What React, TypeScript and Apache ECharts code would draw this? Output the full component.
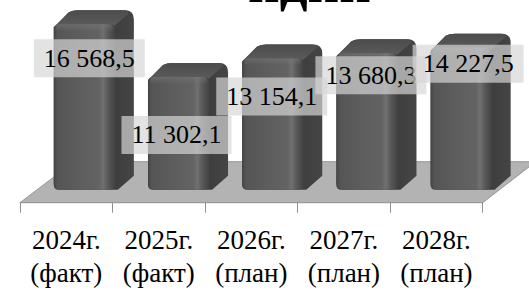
import React, { useEffect, useRef } from 'react';
import * as echarts from 'echarts';

const years = ['2024г.', '2025г.', '2026г.', '2027г.', '2028г.'];
const kinds = ['(факт)', '(факт)', '(план)', '(план)', '(план)'];
const values = [16568.5, 11302.1, 13154.1, 13680.3, 14227.5];
const titleText = 'ндии';

// label nudges relative to each bar's front top (layout only)
const labelDx = [5, -2, -1, 4, 7];
const labelDy = [34, 58, 38, 22, 16];

const categories = years.map((y, i) => `${y}\n${kinds[i]}`);

const SERIF = 'Liberation Serif';

function fmt(v: number): string {
  const [int, dec] = v.toFixed(1).split('.');
  return int.replace(/\B(?=(\d{3})+(?!\d))/g, ' ') + ',' + dec;
}

// perspective geometry (px)
const DX = 19;
const DY = -14;
const FLOOR_DXL = 54;
const FLOOR_DXR = 53;
const FLOOR_DY = -41;

function barGeom(params: any, api: any, idx: number, val: number) {
  const [cx, cy] = api.coord([idx, val]);
  const [, y0] = api.coord([idx, 0]);
  const band = api.size([1, 0])[0];
  const cs = params.coordSys;
  const w = band * 0.66;
  const x0 = cx - band * 0.135 + 0.018 * (cx - cs.x - band / 2);
  const lift = band * 0.14;
  return { x0, x1: x0 + w, w, yb: y0 - lift, yt: cy - lift };
}

export default function App() {
  const ref = useRef<HTMLDivElement>(null);

  useEffect(() => {
    if (!ref.current) return;
    const chart = echarts.init(ref.current, undefined, { renderer: 'svg' });
    const data = values.map((v, i) => [i, v]);

    const option: any = {
      animation: false,
      backgroundColor: '#ffffff',
      textStyle: { fontFamily: SERIF },
      grid: { left: 20, right: 46.3, top: 3, bottom: 91.3 },
      xAxis: {
        type: 'category',
        data: categories,
        axisLine: { show: true, lineStyle: { color: '#8f8f8f', width: 1 } },
        axisTick: { show: true, length: 10, lineStyle: { color: '#8f8f8f', width: 1 } },
        axisLabel: {
          interval: 0,
          margin: 21,
          color: '#000',
          fontFamily: SERIF,
          fontSize: 27,
          lineHeight: 33,
        },
        splitLine: { show: false },
      },
      yAxis: {
        type: 'value',
        min: 0,
        max: 20000,
        show: false,
        splitLine: { show: false },
      },
      graphic: [
        {
          type: 'text',
          x: 248,
          y: -17,
          style: {
            text: titleText,
            fill: '#000',
            fontFamily: SERIF,
            fontWeight: 'bold',
            fontSize: 55,
            align: 'left',
            verticalAlign: 'middle',
          },
        },
      ],
      series: [
        {
          type: 'custom',
          name: 'floor',
          z: 1,
          silent: true,
          data: [[0, 0]],
          renderItem: (params: any) => {
            if (params.dataIndex !== 0) return null;
            const cs = params.coordSys;
            const yb = cs.y + cs.height;
            return {
              type: 'polygon',
              shape: {
                points: [
                  [cs.x, yb],
                  [cs.x + cs.width, yb],
                  [cs.x + cs.width + FLOOR_DXR, yb + FLOOR_DY],
                  [cs.x + FLOOR_DXL, yb + FLOOR_DY],
                ],
              },
              style: { fill: '#b3b3b3', stroke: '#969696', lineWidth: 1 },
            };
          },
        },
        {
          type: 'custom',
          name: 'bars',
          z: 2,
          data,
          renderItem: (params: any, api: any) => {
            const idx = api.value(0);
            const val = api.value(1);
            const { x0, x1, w, yb, yt } = barGeom(params, api, idx, val);
            const tY = yt + DY;
            const silhouette =
              `M${x0},${yb - 5} L${x0},${yt + 3} L${x0 + DX - 4},${tY + 2} ` +
              `Q${x0 + DX},${tY} ${x0 + DX + 5},${tY} L${x1 + DX - 9},${tY} ` +
              `Q${x1 + DX},${tY} ${x1 + DX},${tY + 9} L${x1 + DX},${yb + DY} ` +
              `L${x1 + 3},${yb} L${x0 + 5},${yb} Q${x0},${yb} ${x0},${yb - 5} Z`;
            const top =
              `M${x0 + 1},${yt + 3} L${x0 + DX - 4},${tY + 2} ` +
              `Q${x0 + DX},${tY} ${x0 + DX + 5},${tY} L${x1 + DX - 10},${tY} ` +
              `Q${x1 + DX - 3},${tY} ${x1 + DX - 6},${tY + 4} L${x1 - 1},${yt + 2} Z`;
            return {
              type: 'group',
              children: [
                {
                  type: 'path',
                  shape: { pathData: silhouette },
                  style: {
                    fill: new echarts.graphic.LinearGradient(0, 0, 1, 0, [
                      { offset: 0, color: '#3a3a3a' },
                      { offset: 0.8, color: '#3f3f3f' },
                      { offset: 1, color: '#454545' },
                    ]),
                  },
                },
                {
                  type: 'path',
                  shape: { pathData: top },
                  style: {
                    fill: new echarts.graphic.LinearGradient(0, 0, 0, 1, [
                      { offset: 0, color: '#4c4c4c' },
                      { offset: 0.6, color: '#555555' },
                      { offset: 1, color: '#5e5e5e' },
                    ]),
                  },
                },
                {
                  type: 'rect',
                  shape: { x: x0, y: yt, width: w, height: yb - yt, r: [5, 4, 5, 6] },
                  style: {
                    fill: new echarts.graphic.LinearGradient(0, 0, 1, 0, [
                      { offset: 0, color: '#444444' },
                      { offset: 0.06, color: '#555555' },
                      { offset: 0.45, color: '#5e5e5e' },
                      { offset: 0.74, color: '#636363' },
                      { offset: 0.81, color: '#707070' },
                      { offset: 0.88, color: '#5b5b5b' },
                      { offset: 0.96, color: '#4a4a4a' },
                      { offset: 1, color: '#444444' },
                    ]),
                  },
                },
                {
                  type: 'rect',
                  shape: { x: x0 + 2, y: yt, width: w - 4, height: 7, r: [4, 4, 0, 0] },
                  style: {
                    fill: new echarts.graphic.LinearGradient(0, 0, 0, 1, [
                      { offset: 0, color: 'rgba(120,120,120,0.55)' },
                      { offset: 1, color: 'rgba(120,120,120,0)' },
                    ]),
                  },
                },
              ],
            };
          },
        },
        {
          type: 'custom',
          name: 'labels',
          z: 3,
          data,
          renderItem: (params: any, api: any) => {
            const idx = api.value(0);
            const val = api.value(1);
            const { x0, w, yt } = barGeom(params, api, idx, val);
            return {
              type: 'text',
              x: x0 + w / 2 + labelDx[idx],
              y: yt + labelDy[idx],
              style: {
                text: fmt(val),
                fill: '#000',
                fontFamily: SERIF,
                fontSize: 26,
                align: 'center',
                verticalAlign: 'middle',
                backgroundColor: 'rgba(214,214,214,0.69)',
                padding: [6, 10, 6, 10],
              },
            };
          },
        },
      ],
    };

    chart.setOption(option);
    return () => chart.dispose();
  }, []);

  return (
    <div
      ref={ref}
      style={{ position: 'fixed', left: 0, top: 0, width: 529, height: 294, background: '#fff' }}
    />
  );
}
